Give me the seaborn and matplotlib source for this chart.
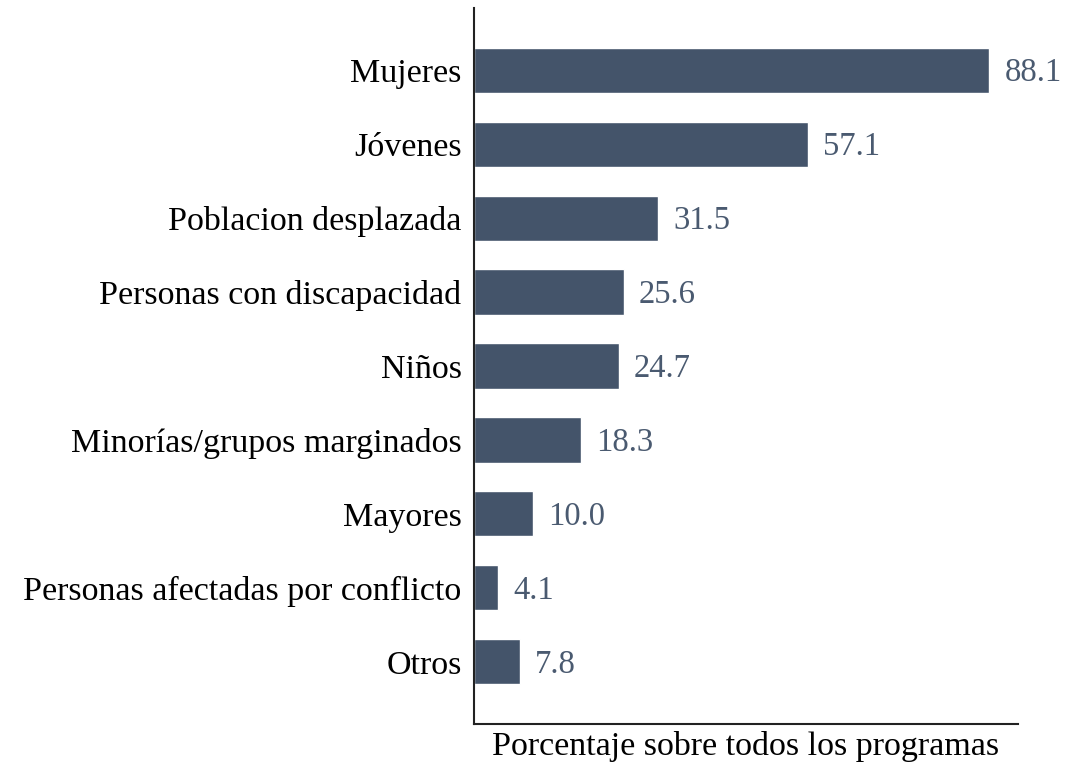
import matplotlib
matplotlib.use("Agg")
import matplotlib.pyplot as plt
import seaborn as sns
import pandas as pd

# Datos
grupos = ['Mujeres', 'Jóvenes', 'Poblacion desplazada', 'Personas con discapacidad',
          'Niños', 'Minorías/grupos marginados', 'Mayores',
          'Personas afectadas por conflicto', 'Otros']
porcentajes = [88.1, 57.1, 31.5, 25.6, 24.7, 18.3, 10.0, 4.1, 7.8]

df = pd.DataFrame({'grupo': grupos, 'pct': porcentajes})

sns.set_theme(style='white')
plt.rcParams['font.family'] = ['Liberation Serif', 'DejaVu Serif']

color_barra = '#44546A'

fig = plt.figure(figsize=(10.91, 7.64), dpi=100)
ax = fig.add_axes([0.4345, 0.0524, 0.4986, 0.9371])

sns.barplot(data=df, x='pct', y='grupo', orient='h', color=color_barra,
            width=0.61, saturation=1, ax=ax)

etiquetas = ax.bar_label(ax.containers[0], fmt='%.1f', padding=11, fontsize=23.5,
                         color='#4a5a70')
for t in etiquetas:
    t.set_va('center')
    t.set_y(t.get_position()[1])
    t.xyann = (t.xyann[0], -2)

ax.set_xlim(0, 93)
ax.set_ylim(8.84, -0.84)
ax.set_xticks([])
ax.set_ylabel('')
ax.set_xlabel('Porcentaje sobre todos los programas', fontsize=24.5,
              color='black', labelpad=5)
ax.tick_params(axis='y', length=0, pad=9, labelsize=24.5, labelcolor='black')

for s in ['top', 'right']:
    ax.spines[s].set_visible(False)
for s in ['left', 'bottom']:
    ax.spines[s].set_color('#222222')
    ax.spines[s].set_linewidth(1.5)

fig.savefig('out.png', dpi=100)
